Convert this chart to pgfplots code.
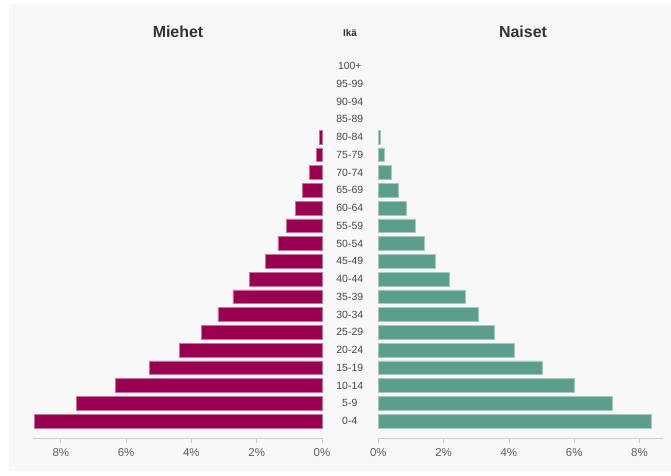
\documentclass[border=0pt]{standalone}
\usepackage{fontspec}
\setmainfont{Liberation Sans}
\usepackage{pgfplots}
\pgfplotsset{compat=1.18}
\definecolor{male}{HTML}{990050}
\definecolor{female}{HTML}{5B9E8B}
\definecolor{panel}{HTML}{F8F8F8}
\definecolor{tickgrey}{HTML}{5E5E5E}
\definecolor{axgrey}{HTML}{CCCCCC}
\begin{document}
\begin{tikzpicture}[x=1bp,y=1bp]
\fill[white] (0,0) rectangle (671,476);
\fill[panel] (9,5) rectangle (671,472);
\pgfplotsset{
  pyr/.style={
    scale only axis,
    height=382.7bp,
    ymin=-0.96, ymax=20.6,
    xmin=0,
    xbar, bar width=0.78,
    axis x line*=bottom,
    x axis line style={draw=axgrey, line width=0.6pt},
    xtick={0,2,4,6,8},
    xtick align=outside,
    xtick style={draw=axgrey, line width=0.6pt},
    major tick length=5bp,
    xticklabel={\pgfmathprintnumber{\tick}\%},
    /pgf/number format/assume math mode=true,
    xticklabel style={font=\fontsize{11.5}{12}\selectfont, text=tickgrey, inner sep=0pt, yshift=-5bp},
    clip=false,
  }
}
\begin{axis}[pyr,
  at={(33bp,38bp)}, anchor=south west,
  width=289bp, xmax=8.851, x dir=reverse,
  axis y line=none]
\addplot[fill=male, draw=male!55!white, line width=0.5pt] coordinates {
(8.81,0) (7.52,1) (6.32,2) (5.29,3) (4.37,4) (3.70,5) (3.19,6) (2.73,7)
(2.23,8) (1.74,9) (1.35,10) (1.08,11) (0.82,12) (0.59,13) (0.38,14)
(0.17,15) (0.07,16)};
\end{axis}
\begin{axis}[pyr,
  at={(378.3bp,38bp)}, anchor=south west,
  width=284.7bp, xmax=8.72,
  axis y line*=left,
  y axis line style={draw=none},
  ytick={0,...,20},
  ytick style={draw=none},
  yticklabels={0-4,5-9,10-14,15-19,20-24,25-29,30-34,35-39,40-44,45-49,50-54,55-59,60-64,65-69,70-74,75-79,80-84,85-89,90-94,95-99,100+},
  yticklabel style={font=\fontsize{10.5}{11}\selectfont, text=black!72, anchor=center, inner sep=0pt, xshift=-23.5bp},
]
\addplot[fill=female, draw=female!55!white, line width=0.5pt] coordinates {
(8.37,0) (7.15,1) (6.00,2) (5.03,3) (4.17,4) (3.54,5) (3.07,6) (2.65,7)
(2.17,8) (1.74,9) (1.40,10) (1.12,11) (0.86,12) (0.62,13) (0.40,14)
(0.19,15) (0.06,16)};
\end{axis}
\node[anchor=base, font=\bfseries\fontsize{16}{18}\selectfont, text=black!80] at (178,438) {Miehet};
\node[anchor=base, font=\bfseries\fontsize{10}{12}\selectfont, text=black!80] at (350,439.5) {Ikä};
\node[anchor=base, font=\bfseries\fontsize{16}{18}\selectfont, text=black!80] at (523,438) {Naiset};
\end{tikzpicture}
\end{document}
